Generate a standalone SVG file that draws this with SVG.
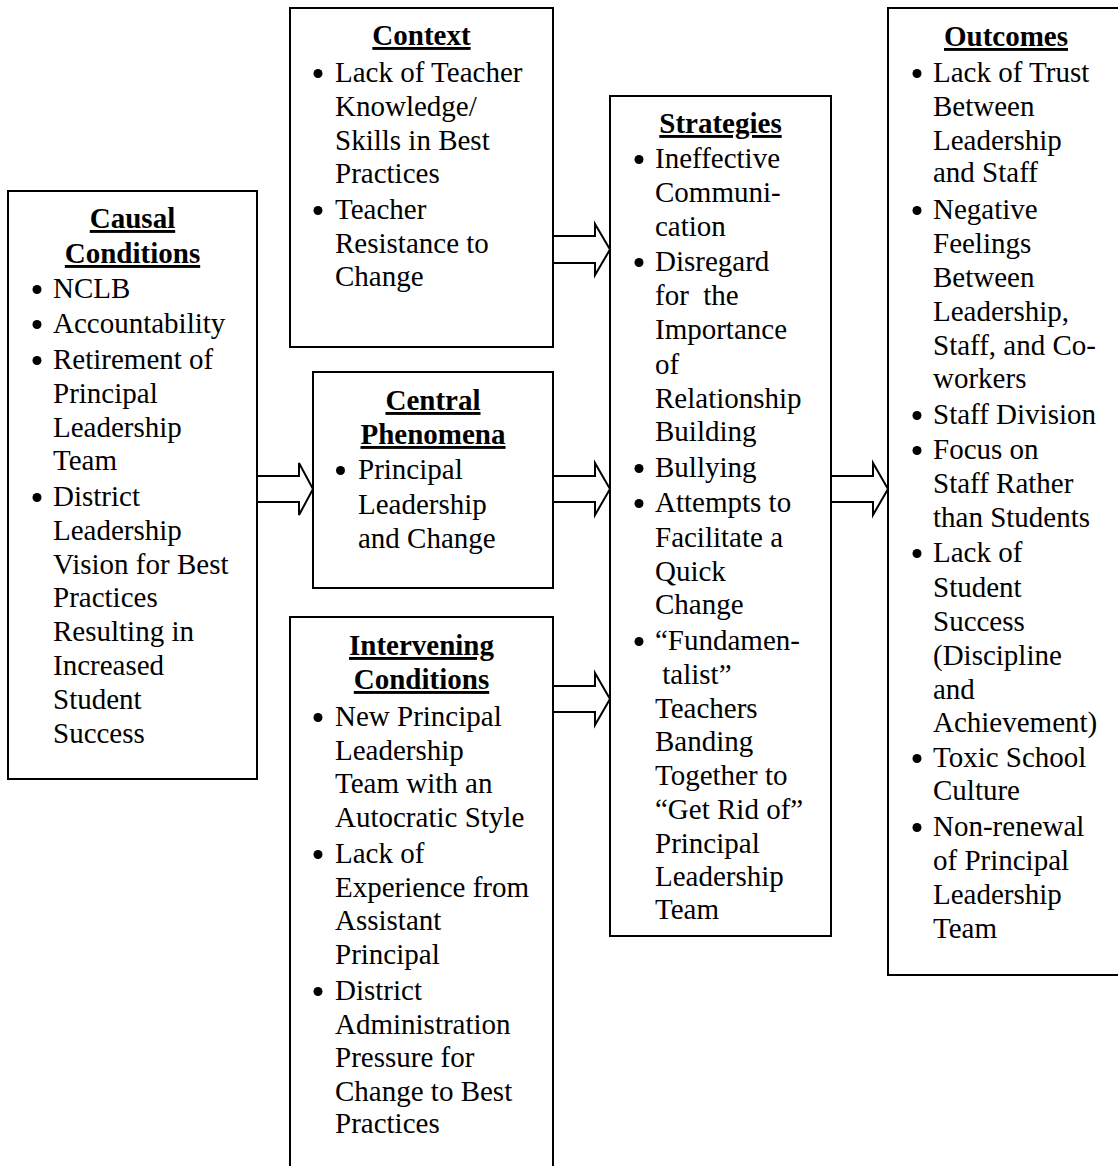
<svg xmlns="http://www.w3.org/2000/svg" width="1118" height="1166" viewBox="0 0 1118 1166">
<style>
.box{fill:#fff;stroke:#000;stroke-width:2}
.arr{fill:#fff;stroke:#000;stroke-width:2;stroke-linejoin:miter}
text{font-family:"Liberation Serif","Times New Roman",serif;font-size:29px;fill:#000;white-space:pre}
.t{font-weight:bold;text-anchor:middle;text-decoration:underline}
.b{fill:#000}
</style>
<rect width="1118" height="1166" fill="#fff"/>
<g id="causal">
<rect class="box" x="8" y="191" width="249" height="588"/>
<text class="t" x="132.5" y="228">Causal</text>
<text class="t" x="132.5" y="263">Conditions</text>
<circle class="b" cx="37" cy="289.5" r="4.5"/><text x="53" y="298">NCLB</text>
<circle class="b" cx="37" cy="324.5" r="4.5"/><text x="53" y="333">Accountability</text>
<circle class="b" cx="37" cy="360.5" r="4.5"/><text x="53" y="369">Retirement of</text>
<text x="53" y="403">Principal</text>
<text x="53" y="437">Leadership</text>
<text x="53" y="470">Team</text>
<circle class="b" cx="37" cy="497.5" r="4.5"/><text x="53" y="506">District</text>
<text x="53" y="540">Leadership</text>
<text x="53" y="574">Vision for Best</text>
<text x="53" y="607">Practices</text>
<text x="53" y="641">Resulting in</text>
<text x="53" y="675">Increased</text>
<text x="53" y="709">Student</text>
<text x="53" y="743">Success</text>
</g>
<g id="context">
<rect class="box" x="290" y="8" width="263" height="339"/>
<text class="t" x="421.5" y="45">Context</text>
<circle class="b" cx="318" cy="73.5" r="4.5"/><text x="335" y="82">Lack of Teacher</text>
<text x="335" y="116">Knowledge/</text>
<text x="335" y="150">Skills in Best</text>
<text x="335" y="183">Practices</text>
<circle class="b" cx="318" cy="210.5" r="4.5"/><text x="335" y="219">Teacher</text>
<text x="335" y="253">Resistance to</text>
<text x="335" y="286">Change</text>
</g>
<g id="central">
<rect class="box" x="313" y="372" width="240" height="216"/>
<text class="t" x="433" y="410">Central</text>
<text class="t" x="433" y="444">Phenomena</text>
<circle class="b" cx="340.5" cy="470.5" r="4.5"/><text x="358" y="479">Principal</text>
<text x="358" y="514">Leadership</text>
<text x="358" y="548">and Change</text>
</g>
<g id="intervening">
<path class="box" d="M290,1170 V617 H553 V1170"/>
<text class="t" x="421.5" y="655">Intervening</text>
<text class="t" x="421.5" y="689">Conditions</text>
<circle class="b" cx="318" cy="717.5" r="4.5"/><text x="335" y="726">New Principal</text>
<text x="335" y="760">Leadership</text>
<text x="335" y="793">Team with an</text>
<text x="335" y="827">Autocratic Style</text>
<circle class="b" cx="318" cy="854.5" r="4.5"/><text x="335" y="863">Lack of</text>
<text x="335" y="897">Experience from</text>
<text x="335" y="930">Assistant</text>
<text x="335" y="964">Principal</text>
<circle class="b" cx="318" cy="991.5" r="4.5"/><text x="335" y="1000">District</text>
<text x="335" y="1034">Administration</text>
<text x="335" y="1067">Pressure for</text>
<text x="335" y="1101">Change to Best</text>
<text x="335" y="1133">Practices</text>
</g>
<g id="strategies">
<rect class="box" x="610" y="96" width="221" height="840"/>
<text class="t" x="720.5" y="133">Strategies</text>
<circle class="b" cx="639" cy="159.5" r="4.5"/><text x="655" y="168">Ineffective</text>
<text x="655" y="202">Communi-</text>
<text x="655" y="236">cation</text>
<circle class="b" cx="639" cy="262.5" r="4.5"/><text x="655" y="271">Disregard</text>
<text x="655" y="305">for  the</text>
<text x="655" y="339">Importance</text>
<text x="655" y="374">of</text>
<text x="655" y="408">Relationship</text>
<text x="655" y="441">Building</text>
<circle class="b" cx="639" cy="468.5" r="4.5"/><text x="655" y="477">Bullying</text>
<circle class="b" cx="639" cy="503.5" r="4.5"/><text x="655" y="512">Attempts to</text>
<text x="655" y="547">Facilitate a</text>
<text x="655" y="581">Quick</text>
<text x="655" y="614">Change</text>
<circle class="b" cx="639" cy="641.5" r="4.5"/><text x="655" y="650">“Fundamen-</text>
<text x="655" y="684"> talist”</text>
<text x="655" y="718">Teachers</text>
<text x="655" y="751">Banding</text>
<text x="655" y="785">Together to</text>
<text x="655" y="819">“Get Rid of”</text>
<text x="655" y="853">Principal</text>
<text x="655" y="886">Leadership</text>
<text x="655" y="919">Team</text>
</g>
<g id="outcomes">
<path class="box" d="M1125,975 H888 V8 H1125"/>
<text class="t" x="1006" y="46">Outcomes</text>
<circle class="b" cx="917" cy="73.5" r="4.5"/><text x="933" y="82">Lack of Trust</text>
<text x="933" y="116">Between</text>
<text x="933" y="150">Leadership</text>
<text x="933" y="182">and Staff</text>
<circle class="b" cx="917" cy="210.5" r="4.5"/><text x="933" y="219">Negative</text>
<text x="933" y="253">Feelings</text>
<text x="933" y="287">Between</text>
<text x="933" y="321">Leadership,</text>
<text x="933" y="355">Staff, and Co-</text>
<text x="933" y="388">workers</text>
<circle class="b" cx="917" cy="415.5" r="4.5"/><text x="933" y="424">Staff Division</text>
<circle class="b" cx="917" cy="450.5" r="4.5"/><text x="933" y="459">Focus on</text>
<text x="933" y="493">Staff Rather</text>
<text x="933" y="527">than Students</text>
<circle class="b" cx="917" cy="553.5" r="4.5"/><text x="933" y="562">Lack of</text>
<text x="933" y="597">Student</text>
<text x="933" y="631">Success</text>
<text x="933" y="665">(Discipline</text>
<text x="933" y="699">and</text>
<text x="933" y="732">Achievement)</text>
<circle class="b" cx="917" cy="758.5" r="4.5"/><text x="933" y="767">Toxic School</text>
<text x="933" y="800">Culture</text>
<circle class="b" cx="917" cy="827.5" r="4.5"/><text x="933" y="836">Non-renewal</text>
<text x="933" y="870">of Principal</text>
<text x="933" y="904">Leadership</text>
<text x="933" y="938">Team</text>
</g>
<g id="connectors">
<polygon class="arr" points="257,476 299,476 299,463 313,489 299,515 299,502 257,502"/>
<polygon class="arr" points="553,236 595,236 595,224 610,249.5 595,275 595,263 553,263"/>
<polygon class="arr" points="553,476 595,476 595,463 610,489 595,515 595,502 553,502"/>
<polygon class="arr" points="553,686 595,686 595,673 610,699 595,725 595,712 553,712"/>
<polygon class="arr" points="831,476 873,476 873,463 888,489 873,515 873,502 831,502"/>
</g>
</svg>
